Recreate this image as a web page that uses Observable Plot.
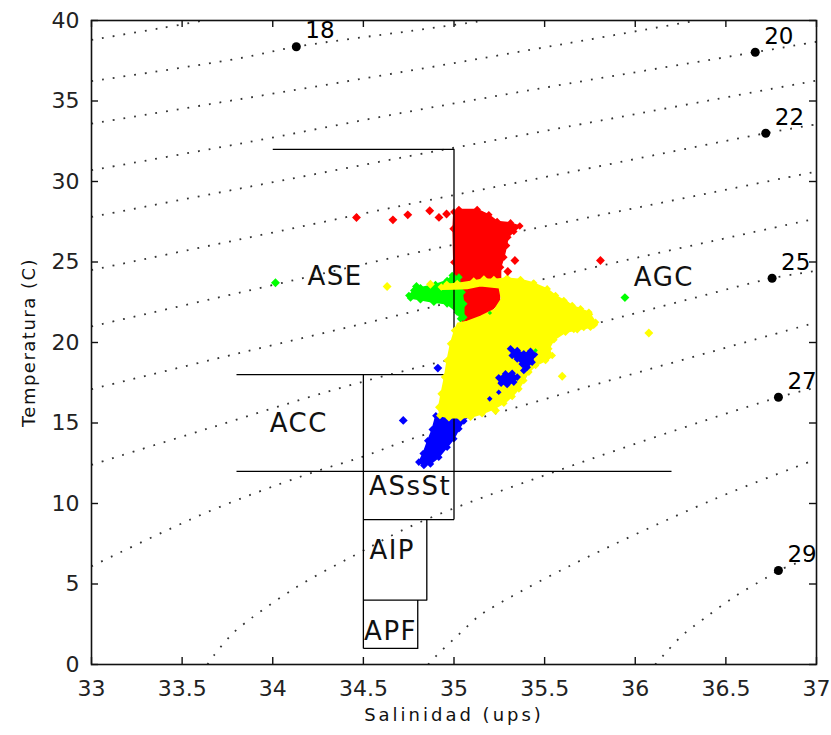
<!DOCTYPE html>
<html>
<head>
<meta charset="utf-8">
<script src="https://cdn.jsdelivr.net/npm/d3@7"></script>
<script src="https://cdn.jsdelivr.net/npm/@observablehq/plot@0.6"></script>
<style>
  body { margin: 0; background: #fff; }
  #chart svg { display: block; }
</style>
</head>
<body>
<div id="chart"></div>
<script>
// Isopycnals (sigma-t), each as [salinity, temperature] points
const sigma17 = [[33, 38.8], [33.38, 39.52], [33.62, 40]];
const sigma18 = [[33, 36.23], [33.8, 37.62], [34.13, 38.37], [34.76, 39.35], [35.17, 40]];
const sigma19 = [[33, 33.6], [33.8, 35.08], [34.76, 36.89], [35.625, 38.58], [36.34, 40]];
const sigma20 = [[33, 30.7], [33.8, 32.31], [34.76, 34.36], [35.625, 36.07], [36.662, 38.03], [37, 38.68]];
const sigma21 = [[33, 27.8], [33.8, 29.52], [34.76, 31.59], [35.625, 33.4], [37, 36.27]];
const sigma22 = [[33, 24.5], [33.8, 26.36], [34.76, 28.61], [35.625, 30.55], [36.72, 33.0], [37, 33.55]];
const sigma23 = [[33, 21.0], [33.8, 23.05], [34.76, 25.51], [35.625, 27.5], [37, 30.62]];
const sigma24 = [[33, 17.1], [33.8, 19.3], [34.76, 21.88], [35.625, 24.29], [37, 27.7]];
const sigma25 = [[33, 12.4], [33.638, 14.64], [34.466, 17.47], [35.625, 20.72], [36.305, 22.71], [36.755, 23.99], [37, 24.45]];
const sigma26 = [[33, 6.1], [33.638, 9.46], [34.171, 11.74], [34.51, 12.96], [34.76, 13.99], [35.625, 16.89], [37, 21.25]];
const sigma27 = [[33.64, 0], [33.675, 0.56], [33.763, 1.74], [33.818, 2.32], [34.116, 4.7], [34.466, 6.87], [34.8, 8.78], [35.6, 12.15], [36.79, 16.6], [37, 17.2]];
const sigma28 = [[34.857, 0], [34.907, 0.6], [35.02, 1.8], [35.13, 2.94], [35.19, 3.4], [35.625, 6.05], [36.43, 10.24], [37, 12.75]];
const sigma29 = [[36.11, 0], [36.158, 0.6], [36.259, 1.8], [36.378, 2.84], [36.549, 4.22], [36.728, 5.42], [36.79, 5.84], [36.95, 6.55]];
const isopycnals = [sigma17, sigma18, sigma19, sigma20, sigma21, sigma22, sigma23,
                    sigma24, sigma25, sigma26, sigma27, sigma28, sigma29];

// Labelled isopycnals
const labelSigma = [18, 20, 22, 25, 27, 29];
const labelSal   = [34.13, 36.662, 36.72, 36.755, 36.79, 36.79];
const labelTemp  = [38.37, 38.03, 33.0, 23.99, 16.6, 5.84];

// Water-mass names and where they are written
const massNames = ["ASE", "AGC", "ACC", "ASsSt", "AIP", "APF"];
const massSal   = [34.344, 36.158, 34.144, 34.758, 34.659, 34.65];
const massTemp  = [24.10, 24.02, 14.97, 11.06, 7.08, 2.05];

// Water-mass boundaries
const boundaryASE  = [[34, 32], [35, 32], [35, 9]];
const boundary18   = [[33.8, 18], [35, 18]];
const boundary12   = [[33.8, 12], [36.2, 12]];
const boundary345  = [[34.5, 18], [34.5, 1]];
const boundary9    = [[34.5, 9], [35, 9]];
const boundaryAIP  = [[34.85, 9], [34.85, 4], [34.5, 4]];
const boundaryAPF  = [[34.8, 4], [34.8, 1], [34.5, 1]];
const boundaries = [boundaryASE, boundary18, boundary12, boundary345, boundary9, boundaryAIP, boundaryAPF];

// Observed T-S clouds (outlines) and isolated observations
const redCloud = [[34.995, 27.06], [34.999, 28.10], [35.027, 28.26], [35.128, 28.26], [35.192, 27.93],
  [35.238, 27.52], [35.312, 27.43], [35.363, 27.23], [35.330, 26.89], [35.297, 26.54], [35.290, 26.02],
  [35.275, 25.30], [35.257, 24.68], [35.257, 23.75], [35.250, 22.50], [35.180, 21.70], [35.128, 21.40],
  [35.055, 21.38], [35.040, 21.99], [35.018, 22.92], [35.005, 23.75], [34.999, 24.99]];
const redPoints = [[34.462, 27.76], [34.663, 27.62], [34.745, 27.93], [34.866, 28.18], [34.917, 27.77],
  [34.959, 27.98], [35.336, 25.09], [35.297, 24.41], [35.808, 25.09]];

const greenCloud = [[34.751, 22.92], [34.778, 23.23], [34.815, 23.40], [34.898, 23.60], [34.962, 23.85],
  [34.990, 24.16], [35.027, 24.06], [35.045, 23.12], [35.054, 22.40], [35.054, 21.57], [35.036, 21.47],
  [35.018, 21.88], [34.962, 22.40], [34.889, 22.50], [34.815, 22.65], [34.760, 22.77]];
const greenPoints = [[34.015, 23.71], [34.793, 23.48], [35.943, 22.79]];
const greenSpecks = [[35.45, 19.5], [35.198, 21.84]];

const yellowCloud = [[34.93, 23.45], [34.96, 23.62], [35.018, 23.66], [35.109, 23.82], [35.165, 23.95],
  [35.220, 23.91], [35.293, 24.00], [35.367, 23.91], [35.440, 23.69], [35.514, 23.33], [35.560, 22.92],
  [35.606, 22.61], [35.652, 22.30], [35.698, 22.09], [35.744, 21.88], [35.781, 21.26], [35.753, 20.95],
  [35.680, 20.79], [35.615, 20.64], [35.551, 20.17], [35.523, 19.61], [35.542, 19.19], [35.505, 18.88],
  [35.450, 18.57], [35.413, 18.16], [35.385, 17.64], [35.358, 17.12], [35.321, 16.65], [35.275, 16.23],
  [35.220, 15.88], [35.155, 15.57], [35.091, 15.36], [35.036, 15.32], [34.972, 15.32], [34.922, 15.47],
  [34.916, 15.98], [34.929, 16.81], [34.948, 17.85], [34.962, 18.88], [34.981, 19.92], [35.003, 20.75],
  [35.021, 21.20], [35.073, 21.30], [35.146, 21.62], [35.225, 22.05], [35.262, 22.71], [35.250, 23.40],
  [35.146, 23.52], [35.073, 23.35], [34.999, 23.32], [34.93, 23.30]];
const yellowPoints = [[34.631, 23.48], [34.870, 23.62], [35.625, 22.32], [35.689, 21.88], [35.744, 21.75],
  [35.771, 21.11], [35.716, 20.98], [35.661, 20.85], [36.075, 20.59], [35.597, 17.90], [35.514, 19.09],
  [35.293, 16.60], [35.229, 15.78], [35.597, 20.75]];

const blueTail = [[34.90, 15.45], [34.962, 15.42], [35.063, 15.40], [35.054, 15.12], [35.027, 14.64],
  [34.999, 14.02], [34.962, 13.50], [34.916, 12.88], [34.870, 12.46], [34.834, 12.36], [34.806, 12.57],
  [34.83, 13.10], [34.855, 13.90], [34.88, 14.60]];
const bluePatchA = [[35.312, 19.61], [35.349, 19.50], [35.385, 19.30], [35.422, 19.46], [35.444, 19.25],
  [35.431, 18.78], [35.404, 18.47], [35.385, 18.26], [35.376, 18.67], [35.349, 18.98], [35.321, 19.19]];
const bluePatchB = [[35.247, 17.81], [35.284, 18.05], [35.321, 18.09], [35.349, 17.85], [35.330, 17.54],
  [35.293, 17.39], [35.260, 17.47]];
const bluePoints = [[34.911, 18.41], [34.720, 15.16]];
const blueSpecks = [[35.257, 17.53], [35.247, 16.91], [35.197, 16.50]];

const xTicks = [33, 33.5, 34, 34.5, 35, 35.5, 36, 36.5, 37];
const yTicks = [0, 5, 10, 15, 20, 25, 30, 35, 40];

const W = 831, H = 735;
const mL = 91, mR = 15, mT = 20, mB = 71;
const innerW = W - mL - mR, innerH = H - mT - mB;
const tick = 7;

const S = d => d[0], T = d => d[1];
const RED = "#ff0000", GREEN = "#00ff00", YELLOW = "#ffff00", BLUE = "#0000ff";

// a filled cloud outline, with diamond markers along the edge that is exposed
const cloud = (pts, color, edge = pts) => [
  Plot.line(pts, {x: S, y: T, fill: color, stroke: color, strokeWidth: 1.5, curve: "linear-closed"}),
  Plot.dot(edge, {x: S, y: T, symbol: "diamond2", r: 3.4, fill: color, stroke: "none"})
];
const diamonds = (pts, color, r = 4) =>
  Plot.dot(pts, {x: S, y: T, symbol: "diamond2", r, fill: color, stroke: "none"});

const chart = Plot.plot({
  width: W,
  height: H,
  marginLeft: mL, marginRight: mR, marginTop: mT, marginBottom: mB,
  style: {fontFamily: "'DejaVu Sans', sans-serif", fontSize: "22px", color: "#111", background: "#fff"},
  x: {domain: [33, 37], label: null},
  y: {domain: [0, 40], label: null},
  marks: [
    // dotted isopycnals
    ...isopycnals.map(pts => Plot.line(pts, {
      x: S, y: T, curve: "catmull-rom", stroke: "#333", strokeWidth: 1.8,
      strokeDasharray: "1.8 9", strokeLinecap: "butt"
    })),
    // observations below the boundary lines
    ...cloud(redCloud, RED),
    ...cloud(greenCloud, GREEN),
    ...cloud(blueTail, BLUE),
    // water-mass boundaries
    ...boundaries.map(pts => Plot.line(pts, {x: S, y: T, stroke: "#000", strokeWidth: 1.3, strokeLinecap: "butt"})),
    // observations above the boundary lines
    ...cloud(yellowCloud, YELLOW, yellowCloud.slice(0, 41)),
    ...cloud(bluePatchA, BLUE),
    ...cloud(bluePatchB, BLUE),
    diamonds(redPoints, RED),
    diamonds(greenPoints, GREEN),
    diamonds(greenSpecks, GREEN, 2),
    diamonds(yellowPoints, YELLOW),
    diamonds(bluePoints, BLUE),
    diamonds(blueSpecks, BLUE, 2.5),
    // isopycnal labels
    Plot.dot(labelSigma, {x: (d, i) => labelSal[i], y: (d, i) => labelTemp[i], r: 4.5, fill: "#000", stroke: "none"}),
    Plot.text(labelSigma, {
      x: (d, i) => labelSal[i], y: (d, i) => labelTemp[i], text: d => String(d),
      textAnchor: "start", lineAnchor: "middle", dx: 9, dy: -16, fontSize: 23, fill: "#000"
    }),
    // water-mass names
    Plot.text(massNames, {
      x: (d, i) => massSal[i], y: (d, i) => massTemp[i], text: d => d,
      textAnchor: "middle", lineAnchor: "middle", fontSize: 26, fill: "#111"
    }),
    // box and inward ticks on all four sides
    Plot.frame({stroke: "#111", strokeWidth: 1.6}),
    Plot.ruleX(xTicks, {x: d => d, insetTop: innerH - tick, stroke: "#111", strokeWidth: 1.4}),
    Plot.ruleX(xTicks, {x: d => d, insetBottom: innerH - tick, stroke: "#111", strokeWidth: 1.4}),
    Plot.ruleY(yTicks, {y: d => d, insetRight: innerW - tick, stroke: "#111", strokeWidth: 1.4}),
    Plot.ruleY(yTicks, {y: d => d, insetLeft: innerW - tick, stroke: "#111", strokeWidth: 1.4}),
    Plot.axisX({ticks: xTicks, tickSize: 0, tickPadding: 16, tickFormat: d => String(d), fontSize: 22, fill: "#222", label: null}),
    Plot.axisY({ticks: yTicks, tickSize: 0, tickPadding: 12, tickFormat: d => String(d), fontSize: 22, fill: "#222", label: null}),
    // axis titles
    Plot.text(["Salinidad (ups)"], {frameAnchor: "bottom", textAnchor: "middle", lineAnchor: "middle", dy: 51, fontSize: 18, fill: "#111"}),
    Plot.text(["Temperatura (C)"], {frameAnchor: "left", textAnchor: "middle", lineAnchor: "middle", rotate: -90, dx: -62, fontSize: 18, fill: "#111"})
  ]
});

// wider tracking for the titles and the water-mass names
const spacing = {"Salinidad (ups)": "3px", "Temperatura (C)": "1.5px"};
massNames.forEach(n => spacing[n] = "1.5px");
d3.select(chart).selectAll("text").each(function () {
  const s = spacing[this.textContent];
  if (s) this.setAttribute("letter-spacing", s);
});

document.getElementById("chart").appendChild(chart);
</script>
</body>
</html>
